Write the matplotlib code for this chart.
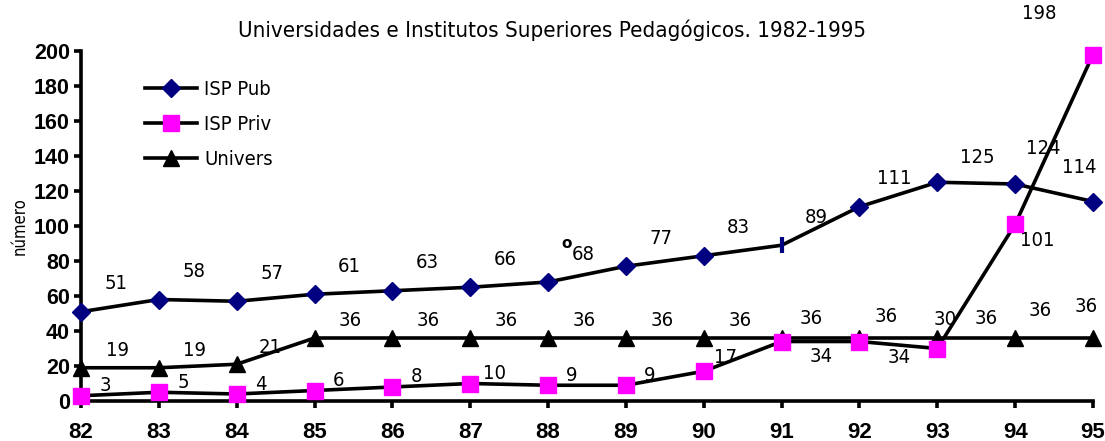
import matplotlib
matplotlib.use("Agg")
import matplotlib.pyplot as plt
from matplotlib import font_manager
from matplotlib.lines import Line2D

# dados
anos = ["82", "83", "84", "85", "86", "87", "88", "89", "90", "91", "92", "93", "94", "95"]
isp_pub = [51, 58, 57, 61, 63, 65, 68, 77, 83, 89, 111, 125, 124, 114]
isp_pub_rot = [51, 58, 57, 61, 63, 66, 68, 77, 83, 89, 111, 125, 124, 114]
isp_priv = [3, 5, 4, 6, 8, 10, 9, 9, 17, 34, 34, 30, 101, 198]
univers = [19, 19, 21, 36, 36, 36, 36, 36, 36, 36, 36, 36, 36, 36]

# fonte estreita parecida com Arial Narrow
FP = dict(family="DejaVu Sans", stretch="condensed")

x = list(range(len(anos)))

fig = plt.figure(figsize=(11.05, 4.41), dpi=100)
ax = fig.add_axes([81 / 1105, 1 - 401 / 441, (1093 - 81) / 1105, 350 / 441])

lw = 2.6
# ISP Pub (marcador do 91 sai como traço no original)
ax.plot(x, isp_pub, color="black", lw=lw, zorder=3, clip_on=False)
idx = [i for i in x if i != 9]
ax.plot(idx, [isp_pub[i] for i in idx], ls="none", marker="D", ms=9.5,
        color="#000080", zorder=4, clip_on=False)
ax.plot([9], [isp_pub[9]], ls="none", marker="|", ms=11, mew=3,
        color="#000080", zorder=4, clip_on=False)
ax.plot(x, univers, color="black", lw=lw, marker="^", ms=11,
        mfc="black", mec="black", zorder=3, clip_on=False)
ax.plot(x, isp_priv, color="black", lw=lw, marker="s", ms=11,
        mfc="#FF00FF", mec="#FF00FF", zorder=5, clip_on=False)


def rot(txt, xy, d):
    ax.annotate(txt, xy, xytext=d, textcoords="offset pixels",
                ha="center", va="center", fontsize=14.5, **FP)


# rótulos (deslocamento em pixels)
desl_pub = {11: (40, 25), 12: (28, 36), 13: (-14, 34)}
for i, v in enumerate(isp_pub_rot):
    rot(str(v), (i, isp_pub[i]), desl_pub.get(i, (35, 28)))

desl_uni = {2: (33, 17), 9: (30, 19), 10: (27, 22), 11: (49, 19), 12: (25, 27), 13: (-7, 31)}
for i, v in enumerate(univers):
    rot(str(v), (i, v), desl_uni.get(i, (36, 17)))

desl_priv = {8: (22, 14), 9: (40, -15), 10: (40, -16), 11: (8, 29), 12: (22, -16), 13: (-54, 41)}
for i, v in enumerate(isp_priv):
    rot(str(v), (i, v), desl_priv.get(i, (24, 10)))

# sinal perdido junto ao 68
ax.annotate("o", (6, isp_pub[6]), xytext=(18, 38), textcoords="offset pixels",
            ha="center", va="center", fontsize=11, fontweight="bold")

ax.set_xlim(0, len(anos) - 1)
ax.set_ylim(0, 200)
ax.set_xticks(x)
ax.set_xticklabels(anos)
ax.set_yticks(range(0, 201, 20))
for s in ["top", "right"]:
    ax.spines[s].set_visible(False)
ax.spines["left"].set_linewidth(2.6)
ax.spines["bottom"].set_linewidth(2.6)
ax.tick_params(axis="both", width=2.6, length=5, direction="out")
ax.tick_params(axis="x", pad=10, labelsize=16)
ax.tick_params(axis="y", pad=3, labelsize=15.5)
for t in ax.get_xticklabels() + ax.get_yticklabels():
    t.set_fontweight("bold")
    t.set_family("Liberation Sans")

ax.set_ylabel("número", fontsize=12, labelpad=4, **FP)
fig.text(0.5, 1 - 30 / 441, "Universidades e Institutos Superiores Pedagógicos. 1982-1995",
         ha="center", va="center", fontsize=16, **FP)

# legenda
h = [Line2D([], [], color="black", lw=lw, marker="D", ms=9.5, mfc="#000080", mec="#000080"),
     Line2D([], [], color="black", lw=lw, marker="s", ms=11, mfc="#FF00FF", mec="#FF00FF"),
     Line2D([], [], color="black", lw=lw, marker="^", ms=11, mfc="black")]
ax.legend(h, ["ISP Pub", "ISP Priv", "Univers"], loc="upper left",
          bbox_to_anchor=(0.045, 0.97), frameon=False, handlelength=2.6,
          handletextpad=0.35, labelspacing=0.8,
          prop=font_manager.FontProperties(size=14.5, **FP))

fig.savefig("out.png", dpi=100)
